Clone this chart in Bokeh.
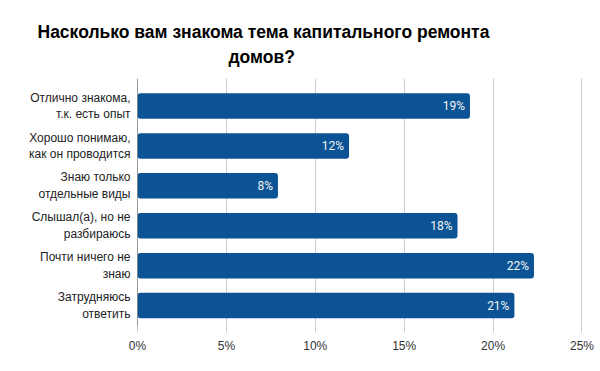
from bokeh.plotting import figure
from bokeh.models import Range1d, FixedTicker, Span, Title, ColumnDataSource
from bokeh.core.properties import value
from bokeh.embed import file_html
from bokeh.resources import INLINE

title_lines = ["Насколько вам знакома тема капитального ремонта", "домов?"]
categories = [
    "Отлично знакома,\nт.к. есть опыт",
    "Хорошо понимаю,\nкак он проводится",
    "Знаю только\nотдельные виды",
    "Слышал(а), но не\nразбираюсь",
    "Почти ничего не\nзнаю",
    "Затрудняюсь\nответить",
]
values = [18.7, 11.9, 7.9, 18.0, 22.3, 21.2]
x_ticks = [0, 5, 10, 15, 20, 25]

pos = list(range(len(categories)))
src = ColumnDataSource(dict(
    y=pos, v=values, lab=[f"{round(v)}%" for v in values]
))

p = figure(width=600, height=371, output_backend="svg", toolbar_location=None,
           x_range=Range1d(0, 25.48), y_range=Range1d(5.525, -0.69))
p.min_border_left = 137
p.min_border_right = 10
p.min_border_top = 78
p.min_border_bottom = 45
p.outline_line_color = None

p.hbar(y="y", right="v", left=0, height=0.64, source=src,
       fill_color="#0b5394", line_color=None, border_radius=3)
p.text(x="v", y="y", text="lab", source=src, x_offset=-5,
       text_align="right", text_baseline="middle", text_color="#f4f4f4",
       text_font=value("Roboto"), text_font_size="12px")

p.xgrid.grid_line_color = "#cccccc"
p.ygrid.grid_line_color = None
p.xaxis.ticker = FixedTicker(ticks=x_ticks)
p.xaxis.major_label_overrides = {t: f"{t}%" for t in x_ticks}
p.xaxis.axis_line_color = None
p.xaxis.major_tick_line_color = "#cccccc"
p.xaxis.major_tick_in = 0
p.xaxis.major_tick_out = 6
p.xaxis.minor_tick_line_color = None
p.xaxis.major_label_standoff = 6
p.xaxis.major_label_text_font = "Liberation Sans"
p.xaxis.major_label_text_font_size = "12px"
p.xaxis.major_label_text_color = "#333333"

p.yaxis.ticker = FixedTicker(ticks=pos)
p.yaxis.major_label_overrides = {i: c for i, c in enumerate(categories)}
p.yaxis.axis_line_color = None
p.yaxis.major_tick_line_color = None
p.yaxis.minor_tick_line_color = None
p.yaxis.major_tick_in = 0
p.yaxis.major_tick_out = 0
p.yaxis.major_label_standoff = 7
p.yaxis.major_label_text_font = "Liberation Sans"
p.yaxis.major_label_text_font_size = "12px"
p.yaxis.major_label_text_color = "#222222"

p.add_layout(Span(location=0, dimension="height", line_color="#333333", line_width=1))

offsets = [-100, 91]
standoffs = [-18, 24]
for t, off, so in reversed(list(zip(title_lines, offsets, standoffs))):
    p.add_layout(Title(text=t, align="left", offset=off, standoff=so,
                       text_font="Liberation Sans", text_font_style="bold",
                       text_font_size="17.5px", text_color="#000000"), "above")

open("out.html", "w").write(file_html(p, INLINE))
